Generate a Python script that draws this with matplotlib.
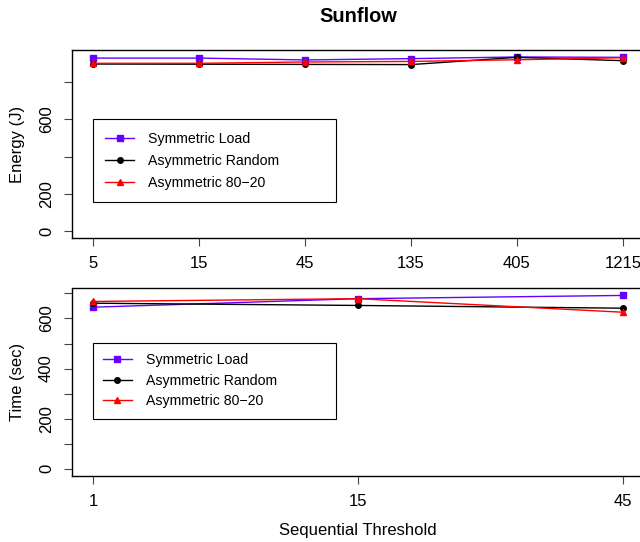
import matplotlib
matplotlib.use('Agg')
import matplotlib.pyplot as plt

plt.rcParams['font.family'] = ['Liberation Sans', 'DejaVu Sans']

# data
thresholds_energy = ['5', '15', '45', '135', '405', '1215']
energy_symmetric = [930, 930, 920, 927, 936, 934]
energy_random = [898, 897, 896, 895, 934, 916]
energy_8020 = [902, 902, 909, 912, 921, 932]

thresholds_time = ['1', '15', '45']
time_symmetric = [645, 679, 692]
time_random = [661, 652, 641]
time_8020 = [668, 679, 625]

series_names = ['Symmetric Load', 'Asymmetric Random', 'Asymmetric 80\u221220']
colors = ['#6600ff', 'black', 'red']
markers = ['s', 'o', '^']
msizes = [5, 4, 5]

fig = plt.figure(figsize=(6.4, 5.42), dpi=100)
W, H = 640, 542


def px_axes(left, top, right, bottom):
    return fig.add_axes([left / W, 1 - bottom / H, (right - left) / W, (bottom - top) / H])


def style(ax, yticks, ylabels, xlabels):
    n = len(xlabels)
    pad = 0.04 * (n - 1)
    ax.set_xlim(-pad, n - 1 + pad)
    ax.set_xticks(range(n))
    ax.set_xticklabels(xlabels)
    ax.set_yticks(yticks)
    ax.set_yticklabels(ylabels, rotation=90, va='center')
    ax.tick_params(direction='out', length=6, width=0.8, pad=7, labelsize=12, color='#444444')
    for s in ax.spines.values():
        s.set_linewidth(1.0)


ax1 = px_axes(72, 50, 644, 238)
for vals, c, m, ms, name in zip([energy_symmetric, energy_random, energy_8020], colors, markers, msizes, series_names):
    ax1.plot(range(len(vals)), vals, color=c, marker=m, markersize=ms, linewidth=1, label=name)
emax = max(energy_symmetric + energy_random + energy_8020)
ax1.set_ylim(-0.04 * emax, 1.04 * emax)
style(ax1, [0, 200, 400, 600, 800], ['0', '200', '', '600', ''], thresholds_energy)
ax1.set_ylabel('Energy (J)', fontsize=12, labelpad=10)
ax1.legend(loc='upper left', bbox_to_anchor=(0.036, 0.0, 0.425, 0.631), mode='expand',
           fontsize=10.2, frameon=True, fancybox=False, edgecolor='black', framealpha=1,
           borderpad=0.9, handlelength=2.0, handletextpad=1.0, labelspacing=0.55,
           borderaxespad=0).get_frame().set_linewidth(0.8)

ax2 = px_axes(72, 288.5, 644, 475.7)
for vals, c, m, ms, name in zip([time_symmetric, time_random, time_8020], colors, markers, msizes, series_names):
    ax2.plot(range(len(vals)), vals, color=c, marker=m, markersize=ms, linewidth=1, label=name)
tmax = max(time_symmetric + time_random + time_8020)
ax2.set_ylim(-0.04 * tmax, 1.04 * tmax)
style(ax2, list(range(0, 800, 100)), ['0', '', '200', '', '400', '', '600', ''], thresholds_time)
ax2.set_ylabel('Time (sec)', fontsize=12, labelpad=10)
ax2.legend(loc='upper left', bbox_to_anchor=(0.036, 0.0, 0.425, 0.71), mode='expand',
           fontsize=10.2, frameon=True, fancybox=False, edgecolor='black', framealpha=1,
           borderpad=0.75, handlelength=2.0, handletextpad=1.0, labelspacing=0.45,
           borderaxespad=0).get_frame().set_linewidth(0.8)

fig.text(358 / W, 1 - 16 / H, 'Sunflow', ha='center', va='center', fontsize=14.4, fontweight='bold')
fig.text(358 / W, 1 - 530 / H, 'Sequential Threshold', ha='center', va='center', fontsize=12)

fig.savefig('out.png', dpi=100)
